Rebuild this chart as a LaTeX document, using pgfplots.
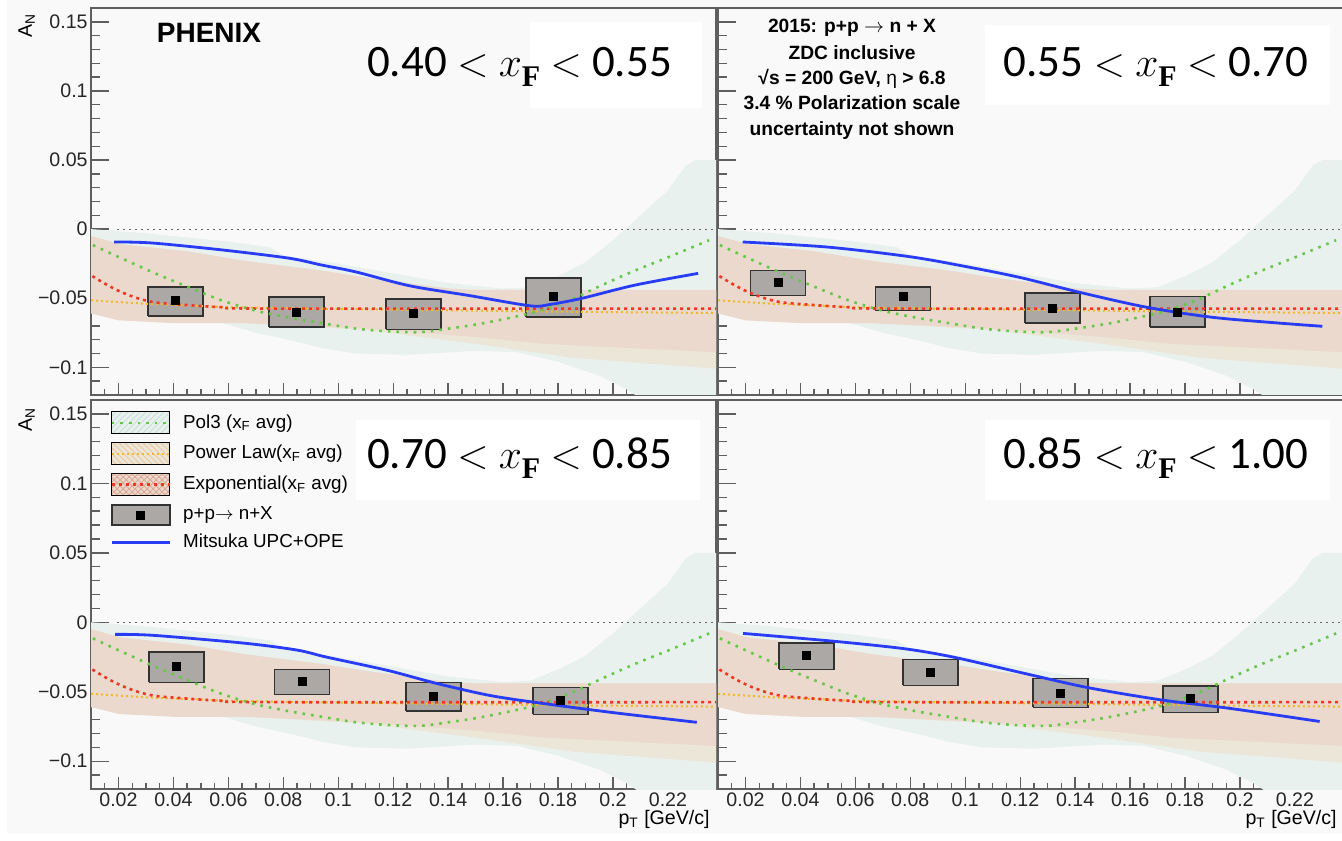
\documentclass[border=0pt]{standalone}
\usepackage{fontspec}
\setmainfont{Liberation Sans}
\newfontfamily\carlito{Carlito}
\newfontfamily\lserif{Liberation Serif}
\usepackage{pgfplots}
\pgfplotsset{compat=1.18}
\usetikzlibrary{patterns}

\definecolor{bgc}{RGB}{249,249,249}
\definecolor{tealband}{RGB}{233,241,239}
\definecolor{tealhatch}{RGB}{200,222,216}
\definecolor{tanband}{RGB}{235,230,216}
\definecolor{tanhatch}{RGB}{236,200,160}
\definecolor{rosyband}{RGB}{234,217,204}
\definecolor{rosyhatch}{RGB}{220,170,150}
\definecolor{boxfill}{RGB}{172,168,165}
\definecolor{boxedge}{RGB}{50,50,50}
\definecolor{bluec}{RGB}{40,60,245}
\definecolor{greenc}{RGB}{100,200,70}
\definecolor{redc}{RGB}{240,55,35}
\definecolor{orangec}{RGB}{240,185,40}
\definecolor{framec}{RGB}{95,95,95}

\tikzset{
  greenline/.style={greenc, line width=1.3pt, dash pattern=on 1.3pt off 3pt},
  redline/.style={redc, line width=1.3pt, dash pattern=on 1.5pt off 2pt},
  orangeline/.style={orangec, line width=1pt, dash pattern=on 1pt off 1.5pt},
  blueline/.style={bluec, line width=1.4pt},
  zeroline/.style={black!60, line width=0.6pt, dash pattern=on 0.8pt off 2.2pt},
  databox/.style={fill=boxfill, draw=boxedge, line width=0.8pt},
}

\newcommand{\xF}{$x$\raisebox{-0.22em}{\lserif\bfseries\fontsize{15}{15}\selectfont F}}

\pgfplotsset{
  panel/.style={
    scale only axis, width=312.5pt,
    xmin=0.01, xmax=0.2375, ymin=-0.12, ymax=0.16,
    axis background/.style={fill=bgc},
    axis line style={framec, line width=0.9pt},
    tick style={framec, line width=0.7pt},
    tick align=inside, tickpos=left,
    xtick={0.02,0.04,0.06,0.08,0.1,0.12,0.14,0.16,0.18,0.2,0.22},
    minor xtick={0.01,0.015,...,0.236},
    ytick={-0.1,-0.05,0,0.05,0.1,0.15},
    minor ytick={-0.12,-0.11,...,0.161},
    major tick length=9pt, minor tick length=4.5pt,
    xtick style={/pgfplots/major tick length=6pt, /pgfplots/minor tick length=3pt},
    xticklabels={}, yticklabels={},
    ticklabel style={font=\fontsize{9.8}{11}\selectfont, text=black!85},
    yticklabel style={inner sep=1.5pt},
    xticklabel style={inner sep=1.5pt},
    clip=true,
  },
  xlab/.style={
    xticklabels={0.02,0.04,0.06,0.08,0.1,0.12,0.14,0.16,0.18,0.2,0.22},
    xlabel={p\textsubscript{T} [GeV/c]},
    every axis x label/.style={at={(rel axis cs:1,0)}, anchor=north east,
      xshift=-3pt, yshift=-10.5pt, inner sep=0pt, font=\fontsize{9.8}{11}\selectfont},
  },
  ylab/.style={
    yticklabels={−0.1,−0.05,0,0.05,0.1,0.15},
    ylabel={A\textsubscript{N}},
    every axis y label/.style={at={(rel axis cs:-0.1030,#1)}, rotate=90, anchor=east,
      inner sep=0pt, font=\fontsize{9.8}{11}\selectfont},
  },
}

\newcommand{\commonbands}{%
  \addplot[draw=none, fill=tealband, forget plot] coordinates {
    (0.010,0.000) (0.030,-0.003) (0.060,-0.009) (0.075,-0.013) (0.080,-0.019)
    (0.100,-0.025) (0.120,-0.032) (0.140,-0.039) (0.160,-0.043) (0.170,-0.042)
    (0.180,-0.034) (0.190,-0.024) (0.200,-0.008) (0.210,0.010) (0.220,0.028)
    (0.2265,0.046) (0.230,0.050) (0.2375,0.050)
    (0.2375,-0.155) (0.212,-0.125) (0.205,-0.116) (0.195,-0.106) (0.180,-0.096)
    (0.165,-0.089) (0.150,-0.088) (0.125,-0.091) (0.106,-0.090) (0.094,-0.086)
    (0.082,-0.080) (0.070,-0.075) (0.058,-0.068) (0.040,-0.064) (0.010,-0.060)};
  \addplot[draw=none, fill=tanband, forget plot] coordinates {
    (0.010,-0.005) (0.021,-0.011) (0.045,-0.016) (0.066,-0.023) (0.082,-0.027)
    (0.094,-0.030) (0.110,-0.035) (0.125,-0.039) (0.140,-0.043) (0.150,-0.044)
    (0.2375,-0.044)
    (0.2375,-0.101) (0.185,-0.093) (0.150,-0.083) (0.110,-0.073) (0.066,-0.068)
    (0.010,-0.061)};
  \addplot[draw=none, fill=rosyband, forget plot] coordinates {
    (0.010,-0.005) (0.021,-0.011) (0.045,-0.016) (0.066,-0.023) (0.082,-0.027)
    (0.094,-0.030) (0.110,-0.035) (0.125,-0.039) (0.140,-0.043) (0.150,-0.044)
    (0.2375,-0.044)
    (0.2375,-0.089) (0.175,-0.083) (0.150,-0.078) (0.130,-0.075) (0.110,-0.072)
    (0.066,-0.068) (0.040,-0.068) (0.020,-0.066) (0.010,-0.061)};
  \addplot[zeroline, forget plot] coordinates {(0.0195,0) (0.2375,0)};
}

\newcommand{\commoncurves}{%
  \addplot[orangeline, forget plot] coordinates {
    (0.010,-0.0515) (0.030,-0.054) (0.060,-0.0565) (0.090,-0.0575)
    (0.130,-0.0585) (0.180,-0.0597) (0.2375,-0.0607)};
  \addplot[redline, smooth, forget plot] coordinates {
    (0.0105,-0.034) (0.016,-0.0405) (0.021,-0.0455) (0.027,-0.050) (0.0334,-0.053)
    (0.0455,-0.055) (0.0575,-0.0565) (0.075,-0.0575) (0.2375,-0.0575)};
  \addplot[greenline, smooth, forget plot] coordinates {
    (0.0107,-0.0116) (0.021,-0.021) (0.0334,-0.032) (0.0455,-0.042) (0.0575,-0.0515)
    (0.070,-0.059) (0.082,-0.064) (0.094,-0.068) (0.1065,-0.072) (0.1186,-0.074)
    (0.130,-0.0745) (0.140,-0.072) (0.153,-0.068) (0.1716,-0.060) (0.184,-0.0515)
    (0.196,-0.0405) (0.208,-0.030) (0.2205,-0.020) (0.235,-0.008)};
}

\begin{document}
\begin{tikzpicture}
\useasboundingbox (0,0) rectangle (671pt,420pt);
\fill[white] (0,0) rectangle (671pt,420pt);
\fill[bgc] (3.5pt,3.5pt) rectangle (671pt,420pt);

% ---------------- top left: 0.40 < xF < 0.55
\begin{axis}[panel, at={(45.5pt,222.5pt)}, anchor=south west, height=193.5pt, ylab=0.987]
\commonbands
\addplot[databox, forget plot] coordinates {(0.0307,-0.063) (0.0507,-0.063) (0.0507,-0.042) (0.0307,-0.042) (0.0307,-0.063)};
\addplot[databox, forget plot] coordinates {(0.0748,-0.071) (0.0948,-0.071) (0.0948,-0.049) (0.0748,-0.049) (0.0748,-0.071)};
\addplot[databox, forget plot] coordinates {(0.1174,-0.0725) (0.1374,-0.0725) (0.1374,-0.0507) (0.1174,-0.0507) (0.1174,-0.0725)};
\addplot[databox, forget plot] coordinates {(0.1684,-0.0637) (0.1884,-0.0637) (0.1884,-0.0355) (0.1684,-0.0355) (0.1684,-0.0637)};
\commoncurves
\addplot[blueline, smooth, forget plot] coordinates {
  (0.0184,-0.0093) (0.032,-0.010) (0.0575,-0.015) (0.082,-0.021) (0.094,-0.026)
  (0.1065,-0.031) (0.126,-0.041) (0.1475,-0.048) (0.170,-0.0555) (0.177,-0.0545)
  (0.1888,-0.050) (0.208,-0.0405) (0.231,-0.032)};
\addplot[only marks, mark=square*, mark size=2pt, black, forget plot] coordinates {
  (0.0407,-0.0515) (0.0848,-0.060) (0.1274,-0.061) (0.1784,-0.049)};
\end{axis}

% ---------------- top right: 0.55 < xF < 0.70
\begin{axis}[panel, at={(359pt,222.5pt)}, anchor=south west, height=193.5pt]
\commonbands
\addplot[databox, forget plot] coordinates {(0.0218,-0.048) (0.0418,-0.048) (0.0418,-0.030) (0.0218,-0.030) (0.0218,-0.048)};
\addplot[databox, forget plot] coordinates {(0.0673,-0.059) (0.0873,-0.059) (0.0873,-0.042) (0.0673,-0.042) (0.0673,-0.059)};
\addplot[databox, forget plot] coordinates {(0.1218,-0.068) (0.1418,-0.068) (0.1418,-0.046) (0.1218,-0.046) (0.1218,-0.068)};
\addplot[databox, forget plot] coordinates {(0.1673,-0.071) (0.1873,-0.071) (0.1873,-0.0486) (0.1673,-0.0486) (0.1673,-0.071)};
\commoncurves
\addplot[blueline, smooth, forget plot] coordinates {
  (0.019,-0.0093) (0.050,-0.013) (0.080,-0.020) (0.100,-0.027) (0.120,-0.035)
  (0.1416,-0.0457) (0.166,-0.0565) (0.190,-0.0638) (0.2144,-0.068) (0.230,-0.0703)};
\addplot[only marks, mark=square*, mark size=2pt, black, forget plot] coordinates {
  (0.0318,-0.0384) (0.0773,-0.049) (0.1318,-0.057) (0.1773,-0.060)};
\end{axis}

% ---------------- bottom left: 0.70 < xF < 0.85
\begin{axis}[panel, at={(45.5pt,25.5pt)}, anchor=south west, height=194.5pt, xlab, ylab=0.982,
  legend style={at={(rel axis cs:0.0304,0.9717)}, anchor=north west, draw=none, fill=none,
    inner sep=0pt, row sep=4pt, column sep=6pt, nodes={inner sep=0pt},
    font=\fontsize{9.4}{11}\selectfont, legend cell align=left}]
\commonbands
\addplot[databox, forget plot] coordinates {(0.0311,-0.0433) (0.0511,-0.0433) (0.0511,-0.0216) (0.0311,-0.0216) (0.0311,-0.0433)};
\addplot[databox, forget plot] coordinates {(0.0768,-0.052) (0.0968,-0.052) (0.0968,-0.034) (0.0768,-0.034) (0.0768,-0.052)};
\addplot[databox, forget plot] coordinates {(0.1247,-0.064) (0.1447,-0.064) (0.1447,-0.0433) (0.1247,-0.0433) (0.1247,-0.064)};
\addplot[databox, forget plot] coordinates {(0.1708,-0.0663) (0.1908,-0.0663) (0.1908,-0.047) (0.1708,-0.047) (0.1708,-0.0663)};
\commoncurves
\addplot[blueline, smooth, forget plot] coordinates {
  (0.0188,-0.0087) (0.0327,-0.0094) (0.0656,-0.015) (0.085,-0.020) (0.0956,-0.025)
  (0.1179,-0.0346) (0.1358,-0.044) (0.155,-0.0526) (0.173,-0.058) (0.200,-0.065)
  (0.2305,-0.072)};
\addplot[only marks, mark=square*, mark size=2pt, black, forget plot] coordinates {
  (0.0411,-0.0317) (0.0868,-0.0425) (0.1347,-0.0533) (0.1808,-0.0562)};
\addlegendimage{legend image code/.code={
  \fill[tealband] (0pt,-5.5pt) rectangle (29pt,5.5pt);
  \fill[pattern=north east lines, pattern color=tealhatch] (0pt,-5.5pt) rectangle (29pt,5.5pt);
  \draw[greenline] (0pt,0pt) -- (29pt,0pt);}}
\addlegendentry{Pol3 (x\textsubscript{F} avg)}
\addlegendimage{legend image code/.code={
  \fill[tanband] (0pt,-5.5pt) rectangle (29pt,5.5pt);
  \fill[pattern=north west lines, pattern color=tanhatch] (0pt,-5.5pt) rectangle (29pt,5.5pt);
  \draw[orangeline] (0pt,0pt) -- (29pt,0pt);}}
\addlegendentry{Power Law(x\textsubscript{F} avg)}
\addlegendimage{legend image code/.code={
  \fill[rosyband] (0pt,-5.5pt) rectangle (29pt,5.5pt);
  \fill[pattern=crosshatch, pattern color=rosyhatch] (0pt,-5.5pt) rectangle (29pt,5.5pt);
  \draw[redline] (0pt,0pt) -- (29pt,0pt);}}
\addlegendentry{Exponential(x\textsubscript{F} avg)}
\addlegendimage{legend image code/.code={
  \draw[databox, line width=1.1pt] (0pt,-5pt) rectangle (29pt,5pt);
  \fill[black] (12.5pt,-2pt) rectangle (16.5pt,2pt);}}
\addlegendentry{p+p$\rightarrow$ n+X}
\addlegendimage{legend image code/.code={
  \draw[blueline] (0pt,0pt) -- (29pt,0pt);}}
\addlegendentry{Mitsuka UPC+OPE}
\end{axis}

% ---------------- bottom right: 0.85 < xF < 1.00
\begin{axis}[panel, at={(359pt,25.5pt)}, anchor=south west, height=194.5pt, xlab]
\commonbands
\addplot[databox, forget plot] coordinates {(0.0323,-0.0339) (0.0523,-0.0339) (0.0523,-0.0151) (0.0323,-0.0151) (0.0323,-0.0339)};
\addplot[databox, forget plot] coordinates {(0.0773,-0.0454) (0.0973,-0.0454) (0.0973,-0.0267) (0.0773,-0.0267) (0.0773,-0.0454)};
\addplot[databox, forget plot] coordinates {(0.1247,-0.0613) (0.1447,-0.0613) (0.1447,-0.0404) (0.1247,-0.0404) (0.1247,-0.0613)};
\addplot[databox, forget plot] coordinates {(0.1719,-0.065) (0.1919,-0.065) (0.1919,-0.046) (0.1719,-0.046) (0.1719,-0.065)};
\commoncurves
\addplot[blueline, smooth, forget plot] coordinates {
  (0.0191,-0.008) (0.0524,-0.0137) (0.0777,-0.019) (0.0955,-0.025) (0.122,-0.037)
  (0.1446,-0.047) (0.1718,-0.056) (0.1964,-0.062) (0.229,-0.0714)};
\addplot[only marks, mark=square*, mark size=2pt, black, forget plot] coordinates {
  (0.0423,-0.0238) (0.0873,-0.036) (0.1347,-0.0512) (0.1819,-0.0548)};
\end{axis}

% ---------------- texts
\fill[white] (265pt,366pt) rectangle (351pt,409pt);
\fill[white] (492.5pt,367.5pt) rectangle (665pt,407.5pt);
\fill[white] (178pt,170pt) rectangle (350pt,210pt);
\fill[white] (492.5pt,170pt) rectangle (665pt,210pt);

\begin{scope}[every node/.style={anchor=base, inner sep=0pt, font=\carlito\fontsize{22.5}{26}\selectfont}]
\node at (259.75pt,381.5pt) {0.40 $<$ \xF\ $<$ 0.55};
\node at (578pt,381.5pt) {0.55 $<$ \xF\ $<$ 0.70};
\node at (259.75pt,185.5pt) {0.70 $<$ \xF\ $<$ 0.85};
\node at (578pt,185.5pt) {0.85 $<$ \xF\ $<$ 1.00};
\end{scope}

\node[anchor=base, inner sep=0pt, font=\bfseries\fontsize{14}{16}\selectfont] at (104.5pt,398.5pt) {PHENIX};

\begin{scope}[every node/.style={anchor=base, inner sep=0pt, font=\bfseries\fontsize{9.6}{11}\selectfont}]
\node at (426pt,403.5pt) {2015: p+p $\rightarrow$ n + X};
\node at (426pt,390pt) {ZDC inclusive};
\node at (426pt,377.5pt) {√s = 200 GeV, {\mdseries η} > 6.8};
\node at (426pt,365pt) {3.4 \% Polarization scale};
\node at (426pt,352pt) {uncertainty not shown};
\end{scope}
\end{tikzpicture}
\end{document}
